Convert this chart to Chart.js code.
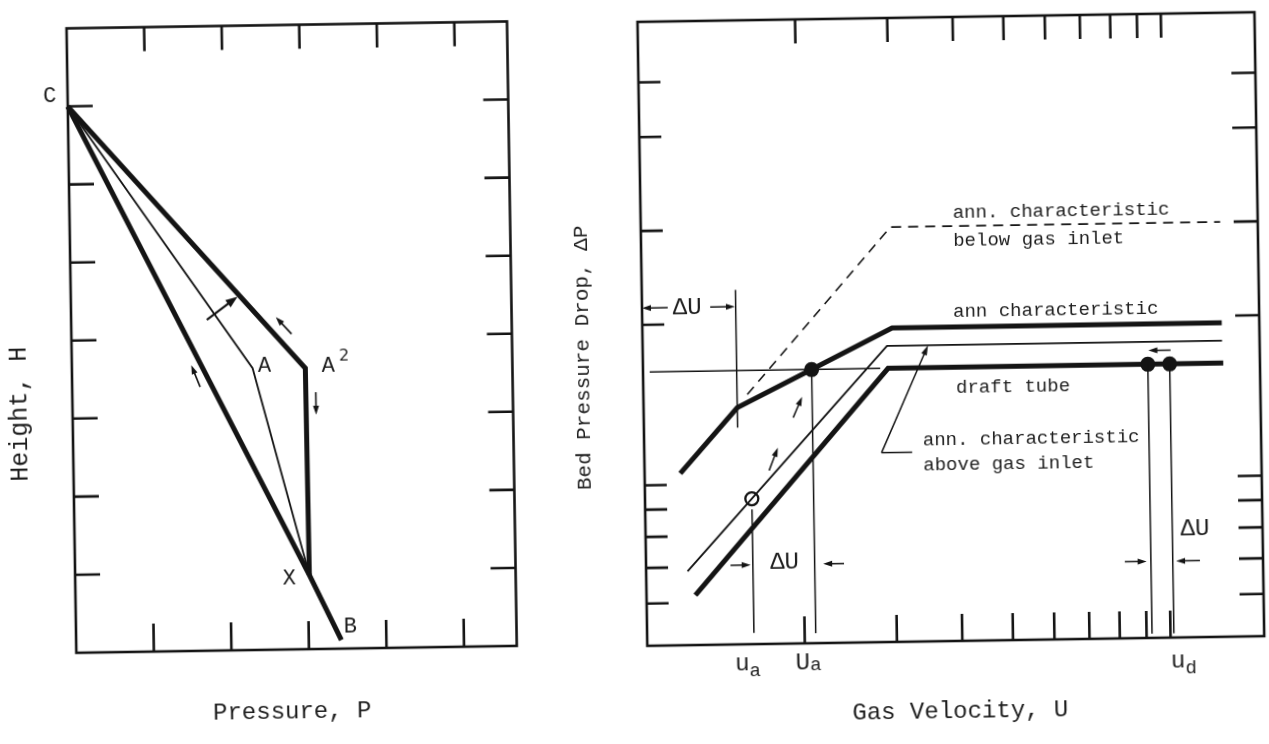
<!DOCTYPE html>
<html>
<head>
<meta charset="utf-8">
<title>Pressure balance and bed pressure drop</title>
<script src="https://cdn.jsdelivr.net/npm/chart.js@4.4.1/dist/chart.umd.min.js"></script>
<style>
  html, body { margin: 0; padding: 0; background: #fff; overflow: hidden; }
  #sheet {
    position: relative; width: 1269px; height: 744px;
    transform: rotate(-0.9deg); transform-origin: 634.5px 372px;
  }
  #sheet canvas { position: absolute; left: 0; top: 0; }
</style>
</head>
<body>
<div id="sheet">
  <canvas id="profile" width="1269" height="744"></canvas>
  <canvas id="bed" width="1269" height="744"></canvas>
</div>
<script>
// ---------- Left: pressure (x) against height (y) ----------
const pressureTicks = [1, 2, 3, 4, 5];
const heightTicks = [1, 2, 3, 4, 5, 6, 7];
const pointC = [0, 7];
const pointA = [2.33, 3.61];
const pointA2 = [3.01, 3.60];
const pointX = [3.02, 0.95];
const pointB = [3.42, 0.11];
const drainLine = [pointC, pointX, pointB];     // C - X - B
const outerLoop = [pointC, pointA2, pointX];     // C - A2 - X
const innerLoop = [pointC, pointA, pointX];      // C - A - X
const shiftArrow = [[1.75, 4.24], [2.15, 4.53]];
const flowArrows = [
  [[2.84, 4.04], [2.64, 4.26]],
  [[3.14, 3.29], [3.14, 3.00]],
  [[1.65, 3.38], [1.54, 3.66]]
];
const profileLabels = [['C', pointC], ['A', pointA], ['A', pointA2], ['X', pointX], ['B', pointB]];

// ---------- Right: gas velocity (x, log) against bed pressure drop (y, log) ----------
const velocityTicks = [2, 3, 4, 5, 6, 7, 8, 9, 10];
const dropTicks = [6, 7, 8, 9, 10, 20, 30, 45, 57];
const annBelowInlet = [[1.58, 14.7], [3.0, 30], [12.8, 30]];
const annCharacteristic = [[1.17, 10.5], [1.51, 13.9], [2.1, 16.3], [3.0, 19.4], [12.8, 19.4]];
const annAboveInlet = [[1.2, 6.88], [2.93, 17.96], [12.8, 17.96]];
const draftTube = [[1.24, 6.2], [2.94, 16.3], [12.85, 16.3]];
const balanceLine = [[1.03, 16.3], [2.84, 16.3]];
const balancePoint = [[2.1, 16.3]];
const draftPoints = [[9.22, 16.3], [10.15, 16.3]];
const startPoint = [[1.6, 9.37]];
const guideLines = [
  [[1.51, 23.1], [1.51, 12.75]],
  [[1.6, 8.95], [1.6, 5.25]],
  [[2.1, 16.3], [2.1, 5.22]],
  [[9.22, 16.3], [9.22, 5.09]],
  [[10.15, 16.3], [10.15, 5.09]]
];
const spanArrows = [
  [[1.12, 21.5], [1.0, 21.5]],
  [[1.35, 21.5], [1.505, 21.5]],
  [[1.45, 7.04], [1.585, 7.04]],
  [[2.39, 7.04], [2.18, 7.04]],
  [[8.22, 6.96], [9.05, 6.96]],
  [[11.44, 6.96], [10.3, 6.96]],
  [[10.2, 17.3], [9.25, 17.3]],
  [[1.93, 13.26], [2.01, 14.5]],
  [[1.73, 10.57], [1.80, 11.66]]
];
const leaderLine = [[3.25, 11.33], [2.84, 11.33], [3.51, 17.96]];
const deltaULabels = [[1.22, 21.5], [1.84, 7.1], [11.22, 7.97]];
const curveNotes = [
  ['ann. characteristic', 3.95, 31.8],
  ['below gas inlet', 3.95, 28.1],
  ['ann characteristic', 3.93, 20.7],
  ['draft tube', 3.96, 14.9],
  ['ann. characteristic', 3.41, 11.9],
  ['above gas inlet', 3.41, 10.69]
];
const velocityLabels = [['u', 'a', 1.555], ['U', 'a', 2.03], ['u', 'd', 10.58]];

// ---------- shared drawing style ----------
const INK = '#141414';
const TEXT = '#1e1e1e';
const MONO = "'Liberation Mono', 'DejaVu Sans Mono', monospace";
const profileLabelOffsets = [[-18, -10], [12, -2], [23, -2], [-20, 3], [9, -13]];

const toXY = list => list.map(([x, y]) => ({ x, y }));

function lineSet(points, width, extra) {
  return Object.assign({
    data: toXY(points), showLine: true, borderColor: INK, borderWidth: width,
    pointRadius: 0, pointHoverRadius: 0, fill: false, tension: 0, clip: false,
    borderJoinStyle: 'miter', borderCapStyle: 'butt'
  }, extra || {});
}

function dotSet(points, radius, fillColor, borderWidth) {
  return {
    data: toXY(points), showLine: false, pointRadius: radius, pointHoverRadius: radius,
    pointBackgroundColor: fillColor, pointBorderColor: INK, pointBorderWidth: borderWidth, clip: false
  };
}

function write(ctx, text, x, y, font, align, angle) {
  ctx.save();
  ctx.translate(x, y);
  if (angle) ctx.rotate(angle);
  ctx.font = font;
  ctx.fillStyle = TEXT;
  ctx.textAlign = align || 'center';
  ctx.textBaseline = 'middle';
  ctx.fillText(text, 0, 0);
  ctx.restore();
}

function arrow(ctx, x0, y0, x1, y1, len, half, width) {
  const a = Math.atan2(y1 - y0, x1 - x0);
  const c = Math.cos(a), s = Math.sin(a);
  ctx.save();
  ctx.strokeStyle = INK; ctx.fillStyle = INK; ctx.lineWidth = width;
  ctx.beginPath();
  ctx.moveTo(x0, y0);
  ctx.lineTo(x1 - c * len * 0.7, y1 - s * len * 0.7);
  ctx.stroke();
  ctx.beginPath();
  ctx.moveTo(x1, y1);
  ctx.lineTo(x1 - c * len + s * half, y1 - s * len - c * half);
  ctx.lineTo(x1 - c * len - s * half, y1 - s * len + c * half);
  ctx.closePath();
  ctx.fill();
  ctx.restore();
}

// Box outline with inward tick marks on all four sides
const framePlugin = {
  id: 'frame',
  beforeDatasetsDraw(chart, args, o) {
    const { ctx, chartArea: a } = chart;
    const x = chart.scales.x, y = chart.scales.y;
    ctx.save();
    ctx.strokeStyle = INK;
    ctx.lineWidth = 2.6;
    ctx.lineCap = 'square';
    ctx.strokeRect(a.left, a.top, a.right - a.left, a.bottom - a.top);
    ctx.beginPath();
    o.xTicks.forEach(v => {
      const px = x.getPixelForValue(v);
      ctx.moveTo(px, a.top); ctx.lineTo(px, a.top + o.len.top);
      ctx.moveTo(px, a.bottom); ctx.lineTo(px, a.bottom - o.len.bottom);
    });
    o.yTicks.forEach(v => {
      const py = y.getPixelForValue(v);
      ctx.moveTo(a.left, py); ctx.lineTo(a.left + o.len.left, py);
      ctx.moveTo(a.right, py); ctx.lineTo(a.right - o.len.right, py);
    });
    ctx.lineCap = 'butt';
    ctx.stroke();
    ctx.restore();
  }
};

// Letters, arrows and axis titles of the pressure/height diagram
const profileNotes = {
  id: 'profileNotes',
  afterDatasetsDraw(chart) {
    const { ctx, chartArea: a } = chart;
    const X = v => chart.scales.x.getPixelForValue(v);
    const Y = v => chart.scales.y.getPixelForValue(v);
    arrow(ctx, X(shiftArrow[0][0]), Y(shiftArrow[0][1]), X(shiftArrow[1][0]), Y(shiftArrow[1][1]), 12, 4.5, 2.2);
    flowArrows.forEach(([p, q]) => arrow(ctx, X(p[0]), Y(p[1]), X(q[0]), Y(q[1]), 9, 3, 1.6));
    profileLabels.forEach(([t, p], i) => {
      const [dx, dy] = profileLabelOffsets[i];
      write(ctx, t, X(p[0]) + dx, Y(p[1]) + dy, '22px ' + MONO);
    });
    write(ctx, '2', X(pointA2[0]) + 39, Y(pointA2[1]) - 11, '16px "DejaVu Sans", sans-serif');
    write(ctx, 'Height, H', a.left - 53, a.top + 385, '25px ' + MONO, 'center', -Math.PI / 2);
    write(ctx, 'Pressure, P', a.left + 215, a.bottom + 63, '24px ' + MONO);
  }
};

// Labels, arrows and axis titles of the bed pressure drop diagram
const bedNotes = {
  id: 'bedNotes',
  afterDatasetsDraw(chart) {
    const { ctx, chartArea: a } = chart;
    const X = v => chart.scales.x.getPixelForValue(v);
    const Y = v => chart.scales.y.getPixelForValue(v);
    spanArrows.forEach(([p, q]) => arrow(ctx, X(p[0]), Y(p[1]), X(q[0]), Y(q[1]), 9, 3, 1.5));
    ctx.save();
    ctx.strokeStyle = INK; ctx.lineWidth = 1.5;
    ctx.beginPath();
    ctx.moveTo(X(leaderLine[0][0]), Y(leaderLine[0][1]));
    ctx.lineTo(X(leaderLine[1][0]), Y(leaderLine[1][1]));
    ctx.stroke();
    ctx.restore();
    arrow(ctx, X(leaderLine[1][0]), Y(leaderLine[1][1]), X(leaderLine[2][0]), Y(leaderLine[2][1]), 10, 3, 1.5);
    deltaULabels.forEach(([vx, vy]) => write(ctx, '\u0394U', X(vx), Y(vy), '24px ' + MONO));
    curveNotes.forEach(([t, vx, vy]) => write(ctx, t, X(vx), Y(vy), '19px ' + MONO, 'left'));
    velocityLabels.forEach(([main, sub, vx], i) => {
      const big = '24px ' + MONO, small = '19px ' + MONO;
      ctx.save();
      ctx.font = big; const w1 = ctx.measureText(main).width;
      ctx.font = small; const w2 = ctx.measureText(sub).width;
      ctx.restore();
      const left = X(vx) - (w1 + w2) / 2;
      const base = a.bottom + (i === 2 ? 24 : 20);
      const drop = i === 1 ? 2 : 7;
      write(ctx, main, left, base, big, 'left');
      write(ctx, sub, left + w1, base + drop, small, 'left');
    });
    write(ctx, 'Bed Pressure Drop, \u0394P', a.left - 60, a.top + 335, '21px ' + MONO, 'center', -Math.PI / 2);
    write(ctx, 'Gas Velocity, U', a.left + 312, a.bottom + 71, '24px ' + MONO);
  }
};

const common = {
  responsive: false, animation: false, devicePixelRatio: 1,
  events: [],
  plugins: { legend: { display: false }, tooltip: { enabled: false } }
};

new Chart(document.getElementById('profile'), {
  type: 'scatter',
  data: {
    datasets: [
      lineSet(innerLoop, 1.8),
      lineSet(drainLine, 5),
      lineSet(outerLoop, 5)
    ]
  },
  options: Object.assign({}, common, {
    layout: { padding: { left: 72, top: 19.5, right: 1269 - 512.5, bottom: 744 - 644 } },
    scales: {
      x: { type: 'linear', min: 0, max: 5.68, display: false },
      y: { type: 'linear', min: 0, max: 8, display: false }
    },
    plugins: Object.assign({}, common.plugins, {
      frame: { xTicks: pressureTicks, yTicks: heightTicks, len: { top: 24, bottom: 28, left: 25, right: 25 } }
    })
  }),
  plugins: [framePlugin, profileNotes]
});

new Chart(document.getElementById('bed'), {
  type: 'scatter',
  data: {
    datasets: [
      lineSet(annBelowInlet, 1.6, { borderDash: [10, 7] }),
      lineSet(balanceLine, 1.5),
      ...guideLines.map(g => lineSet(g, 1.5)),
      lineSet(annAboveInlet, 1.9),
      lineSet(annCharacteristic, 5),
      lineSet(draftTube, 5),
      dotSet(balancePoint, 7.5, INK, 0),
      dotSet(draftPoints, 7.5, INK, 0),
      dotSet(startPoint, 6.5, '#ffffff', 2.3)
    ]
  },
  options: Object.assign({}, common, {
    layout: { padding: { left: 643, top: 22, right: 1269 - 1260, bottom: 744 - 646 } },
    scales: {
      x: { type: 'logarithmic', min: 1, max: 15.1, display: false },
      y: { type: 'logarithmic', min: 5, max: 74, display: false }
    },
    plugins: Object.assign({}, common.plugins, {
      frame: { xTicks: velocityTicks, yTicks: dropTicks, len: { top: 24, bottom: 27, left: 22, right: 24 } }
    })
  }),
  plugins: [framePlugin, bedNotes]
});
</script>
</body>
</html>
